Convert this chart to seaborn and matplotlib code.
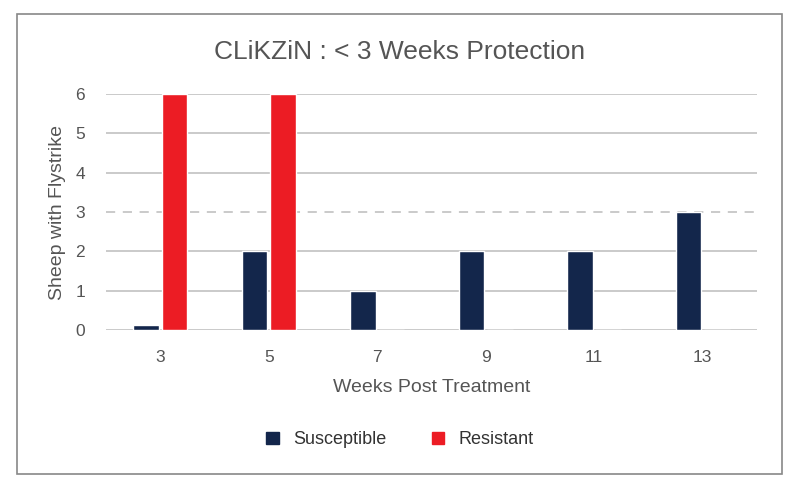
import pandas as pd
import matplotlib
matplotlib.use("Agg")
import matplotlib.pyplot as plt
import seaborn as sns
from matplotlib.patches import Rectangle

# data
weeks = ["3", "5", "7", "9", "11", "13"]
susceptible = [0.12, 2, 1, 2, 2, 3]
resistant = [6, 6, 0, 0, 0, 0]
series = ["Susceptible", "Resistant"]
colors = ["#13264b", "#ec1c24"]

df = pd.DataFrame({
    "week": weeks * 2,
    "value": susceptible + resistant,
    "group": ["Susceptible"] * len(weeks) + ["Resistant"] * len(weeks),
})

sns.set_style("white")
plt.rcParams["font.family"] = ["Liberation Sans", "DejaVu Sans"]

fig = plt.figure(figsize=(8, 4.87), dpi=100)
ax = fig.add_axes([0.1325, 0.322, 0.8137, 0.485])

sns.barplot(data=df, x="week", y="value", hue="group", hue_order=series,
            palette=colors, width=0.52, gap=0.09, ax=ax, legend=False,
            saturation=1)

ax.set_ylim(0, 6)
ax.set_xlim(-0.5, 5.5)
ax.set_yticks(range(7))
for y in [0, 1, 2, 4, 5, 6]:
    ax.axhline(y, color="#bcbcbc", lw=1.1, zorder=0)
ax.axhline(3, color="#bcbcbc", lw=1.1, ls=(0, (6, 5)), zorder=0)
for s in ax.spines.values():
    s.set_visible(False)
ax.tick_params(axis="both", length=0, labelsize=12.5, colors="#555555")
ax.tick_params(axis="x", pad=14)
ax.tick_params(axis="y", pad=15)

ax.set_xlabel("Weeks Post Treatment", fontsize=14, color="#555555", labelpad=10)
ax.set_ylabel("Sheep with Flystrike", fontsize=14, color="#555555")
ax.yaxis.set_label_coords(-0.062, 0.5)
fig.text(0.5, 0.893, "CLiKZiN : < 3 Weeks Protection", ha="center", va="center",
         fontsize=19, color="#555555")

handles = [Rectangle((0, 0), 1, 1, color=c) for c in colors]
fig.legend(handles, series, loc="center", bbox_to_anchor=(0.5, 0.097), ncol=2,
           frameon=False, fontsize=13, handlelength=0.7, handleheight=0.7,
           columnspacing=2.5, handletextpad=0.8, labelcolor="#333333")

fig.patches.append(Rectangle((0.021, 0.027), 0.957, 0.945, transform=fig.transFigure,
                             fill=False, edgecolor="#888888", lw=1.2))

fig.savefig("out.png", dpi=100)
